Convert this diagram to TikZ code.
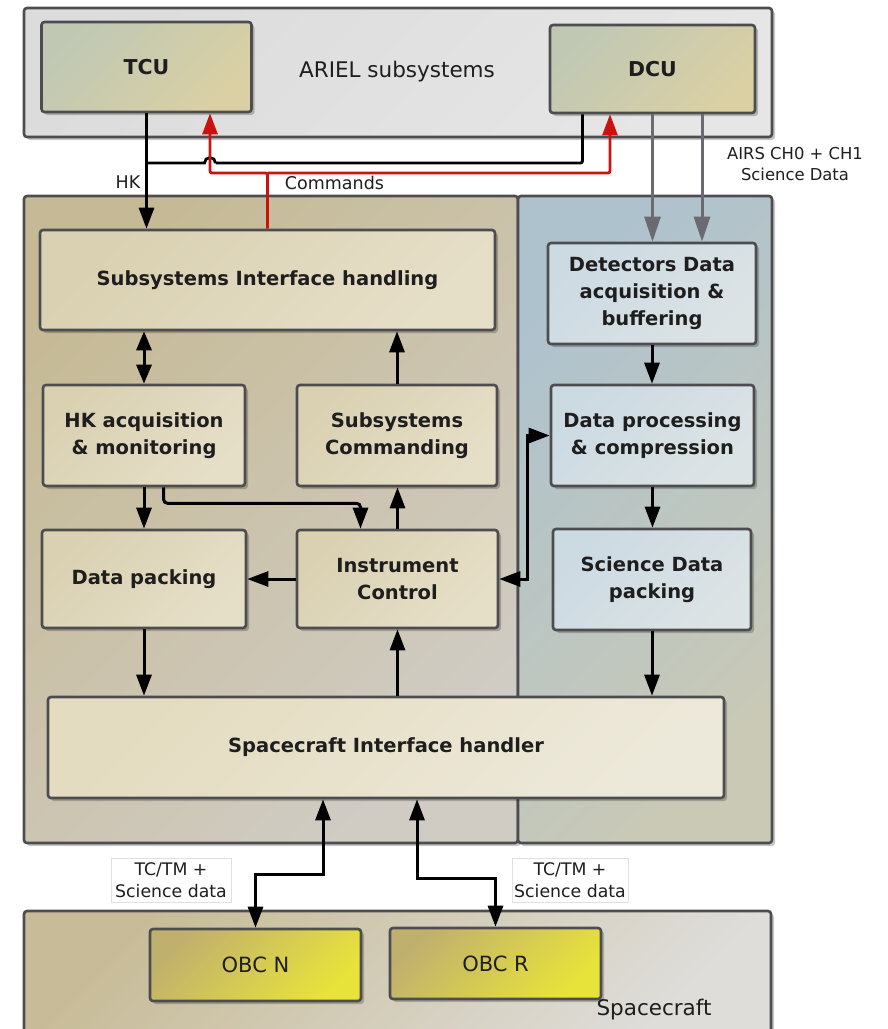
\documentclass[tikz,border=0pt]{standalone}
\usepackage{fontspec}
\setmainfont{DejaVu Sans}
\usetikzlibrary{arrows.meta,calc,shadows}
\definecolor{bordc}{HTML}{4D4D50}
\definecolor{topfillA}{HTML}{DCDCDC}
\definecolor{topfillB}{HTML}{E6E6E6}
\definecolor{unitA}{HTML}{C0C8B4}
\definecolor{unitB}{HTML}{DAD0A4}
\definecolor{tanA}{HTML}{C6BA96}
\definecolor{tanB}{HTML}{D0CCC4}
\definecolor{blueA}{HTML}{AEC2CE}
\definecolor{blueB}{HTML}{C9C9B6}
\definecolor{ltanA}{HTML}{DAD1B2}
\definecolor{ltanB}{HTML}{E6DFC8}
\definecolor{lblueA}{HTML}{CCDAE2}
\definecolor{lblueB}{HTML}{DCE3E5}
\definecolor{sciA}{HTML}{E4DCC0}
\definecolor{sciB}{HTML}{EDE9DA}
\definecolor{obcA}{HTML}{C0B06E}
\definecolor{obcB}{HTML}{E8E33A}
\definecolor{scA}{HTML}{C8BC98}
\definecolor{scB}{HTML}{DEDDDA}
\definecolor{redc}{HTML}{CC1111}
\definecolor{grayarr}{HTML}{6A6A70}
\definecolor{txt}{HTML}{1E1E1E}
\begin{document}
\begin{tikzpicture}[x=1pt,y=-1pt,
  grad/.style 2 args={top color=#1, bottom color=#2, shading angle=45},
  base/.style={draw=bordc, line width=2.6pt, rounded corners=3pt, inner sep=0pt,
    align=center, text=txt,
    drop shadow={shadow xshift=3pt, shadow yshift=-3pt, opacity=0.22, fill=black}},
  cont/.style={base},
  bx/.style={base, font=\bfseries\fontsize{19.5}{27}\selectfont},
  lbox/.style={bx, grad={ltanA}{ltanB}},
  bbox/.style={bx, grad={lblueA}{lblueB}},
  unitbox/.style={bx, grad={unitA}{unitB}},
  obcbox/.style={base, grad={obcA}{obcB}, font=\fontsize{21}{25}\selectfont},
  lab/.style={inner sep=0pt, align=center, text=txt, font=\fontsize{17.5}{21}\selectfont},
  tag/.style={draw=black!12, line width=0.8pt, fill=white, inner sep=0pt, align=center,
    text=txt, font=\fontsize{17.3}{22}\selectfont},
  arr/.style={line width=3pt, draw=black, -{Triangle[length=21pt,width=15pt]}},
  dbl/.style={line width=3pt, draw=black, {Triangle[length=21pt,width=15pt]}-{Triangle[length=21pt,width=15pt]}},
  sdbl/.style={line width=3pt, draw=black, {Triangle[length=19pt,width=15pt]}-{Triangle[length=19pt,width=15pt]}},
  blk/.style={line width=2.8pt, draw=black},
  redarr/.style={line width=2.8pt, draw=redc, -{Triangle[length=21pt,width=15pt]}},
  gryarr/.style={line width=3pt, draw=grayarr, -{Triangle[length=25pt,width=16pt]}}
]
\useasboundingbox (0,0) rectangle (887,1029);
\fill[white] (0,0) rectangle (887,1029);

% containers
\node[cont, grad={topfillA}{topfillB}, minimum width=748, minimum height=129] (top) at (398,72.5) {};
\node[cont, grad={tanA}{tanB}, minimum width=494, minimum height=647] (lc) at (271,519.5) {};
\node[cont, grad={blueA}{blueB}, minimum width=254, minimum height=647] (rc) at (645,519.5) {};
\node[cont, grad={scA}{scB}, minimum width=747, minimum height=129] (scc) at (397.5,975.5) {};

% ARIEL subsystems
\node[unitbox, minimum width=210, minimum height=90, font=\bfseries\fontsize{20.5}{25}\selectfont] (TCU) at (146.5,67) {TCU};
\node[unitbox, minimum width=205, minimum height=88, font=\bfseries\fontsize{20.5}{25}\selectfont] (DCU) at (652.5,69) {DCU};
\node[lab, font=\fontsize{21.5}{25}\selectfont] (ariel) at (397,72) {ARIEL subsystems};

% left side boxes
\node[lbox, minimum width=455, minimum height=100] (SIH) at (267.5,280) {Subsystems Interface handling};
\node[lbox, minimum width=202, minimum height=101] (HK) at (144,435.5) {HK acquisition\\\& monitoring};
\node[lbox, minimum width=200, minimum height=101] (SC) at (397,435.5) {Subsystems\\Commanding};
\node[lbox, minimum width=204, minimum height=98] (DP) at (144,579) {Data packing};
\node[lbox, minimum width=201, minimum height=98] (IC) at (397.5,579) {Instrument\\Control};

% right side boxes
\node[bbox, minimum width=208, minimum height=101] (DET) at (652,293.5) {Detectors Data\\acquisition \&\\buffering};
\node[bbox, minimum width=203, minimum height=101] (DPC) at (652.5,435.5) {Data processing\\\& compression};
\node[bbox, minimum width=198, minimum height=101] (SDP) at (652,579.5) {Science Data\\packing};

% spacecraft interface
\node[bx, grad={sciA}{sciB}, minimum width=676, minimum height=101] (SCI) at (386,747.5) {Spacecraft Interface handler};

% spacecraft
\node[obcbox, minimum width=211, minimum height=72] (OBCN) at (255.5,965) {OBC N};
\node[obcbox, minimum width=211, minimum height=71] (OBCR) at (495.5,963.5) {OBC R};
\node[lab, font=\fontsize{21.5}{25}\selectfont] (scl) at (654,1010) {Spacecraft};

% labels
\node[lab] (hkl) at (128,182) {HK};
\node[lab] (cmdl) at (334.5,183) {Commands};
\node[lab, font=\fontsize{16.4}{21}\selectfont] (airs) at (795,164.5) {AIRS CH0 + CH1\\Science Data};
\node[tag, minimum width=120, minimum height=44] (tag1) at (171,880) {TC/TM +\\Science data};
\node[tag, minimum width=116, minimum height=44] (tag2) at (570,880) {TC/TM +\\Science data};

% ---- connectors ----
% HK from TCU
\draw[arr] (TCU.south) -- (TCU.south |- SIH.north);
% black line from DCU with hop over red line
\coordinate (bk1) at ($(DCU.south)+(-70,0)$);
\coordinate (rt) at ($(TCU.south)+(63.5,0)$);
\coordinate (rd) at ($(DCU.south)+(-42.5,0)$);
\coordinate (hopR) at ($(rt |- 0,163)+(5.5,0)$);
\draw[blk, rounded corners=2pt] (bk1) -- (bk1 |- 0,163) -- (hopR);
\draw[blk] (hopR) arc[start angle=0, end angle=-180, radius=5.5] -- (TCU.south |- 0,163);
% red commands
\draw[redarr, rounded corners=2pt] (SIH.north) -- (SIH.north |- 0,173) -| (rt |- TCU.south);
\draw[redarr, rounded corners=2pt] (SIH.north |- 0,173) -| (rd |- DCU.south);
% gray science data
\draw[gryarr] (DCU.south) -- (DCU.south |- DET.north);
\draw[gryarr] ($(DCU.south)+(49.5,0)$) -- ($(DCU.south |- DET.north)+(49.5,0)$);
% left block
\draw[sdbl] (HK.north) -- (HK.north |- SIH.south);
\draw[arr] (SC.north) -- (SC.north |- SIH.south);
\draw[arr] (HK.south) -- (HK.south |- DP.north);
\draw[arr, rounded corners=4pt] ($(HK.south)+(19.5,0)$) -- ++(0,16) -| ($(IC.north)+(-37,0)$);
\draw[arr] (IC.north) -- (IC.north |- SC.south);
\draw[arr] (IC.west) -- (IC.west -| DP.east);
\draw[dbl] (DPC.west) -- (DPC.west -| 527,0) |- (IC.east);
% right block
\draw[arr] (DET.south) -- (DET.south |- DPC.north);
\draw[arr] (DPC.south) -- (DPC.south |- SDP.north);
% to spacecraft interface
\draw[arr] (DP.south) -- (DP.south |- SCI.north);
\draw[arr] (SCI.north -| IC.south) -- (IC.south);
\draw[arr] (SDP.south) -- (SDP.south |- SCI.north);
% to OBCs
\draw[dbl] ($(SCI.south)+(-63,0)$) -- ($(SCI.south)+(-63,75)$) -| (OBCN.north);
\draw[dbl] ($(SCI.south)+(31,0)$) -- ($(SCI.south)+(31,79)$) -| (OBCR.north);
\end{tikzpicture}
\end{document}
